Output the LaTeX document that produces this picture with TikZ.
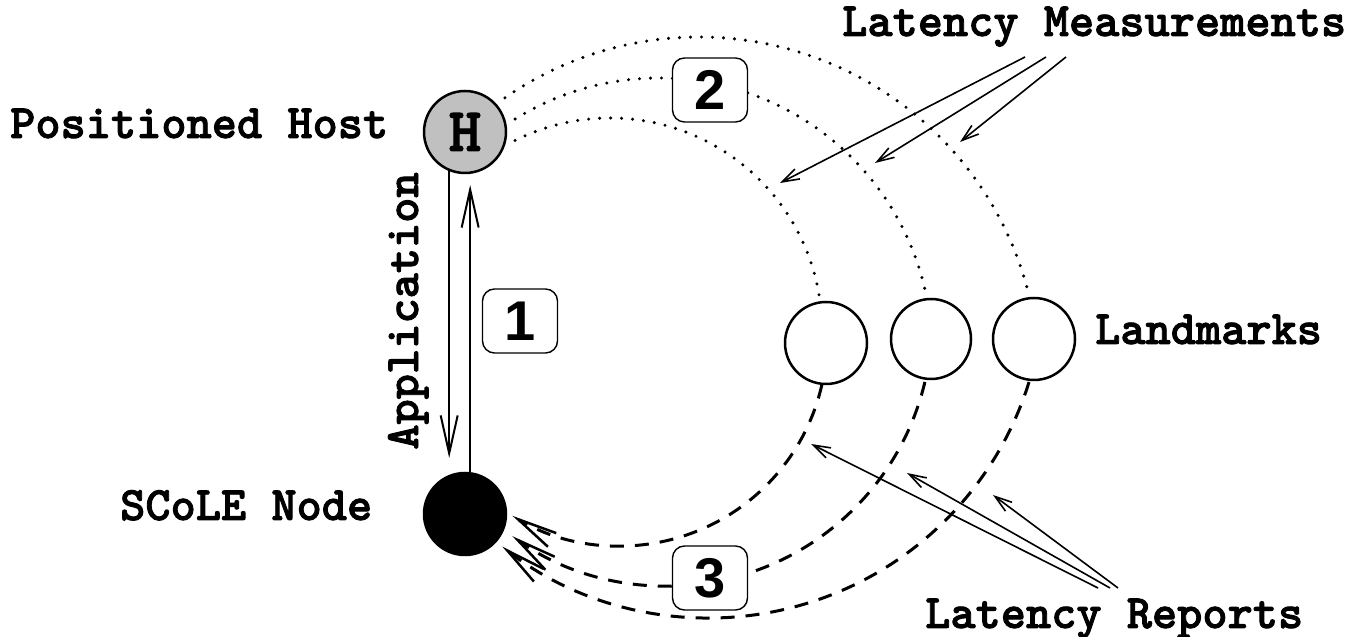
\documentclass[tikz,border=0pt]{standalone}
\usepackage{fontspec}
\newfontfamily\cour{lmmonolt10-bold.otf}[FakeBold=1.8]
\newfontfamily\helv{Liberation Sans}
\usetikzlibrary{arrows.meta,calc}
\definecolor{hgray}{RGB}{192,192,192}
\begin{document}
\begin{tikzpicture}[x=1pt,y=1pt,
  lbl/.style={font=\cour\fontsize{48}{48}\selectfont, inner sep=0pt, anchor=base west},
  numbox/.style={draw, line width=1.4pt, rounded corners=12pt, fill=white, minimum width=75pt, minimum height=64pt, inner sep=0pt, font=\helv\bfseries\fontsize{56}{56}\selectfont},
  dotarc/.style={line width=3.4pt, line cap=round, dash pattern=on 0pt off 11pt},
  dasharc/.style={line width=3pt, dash pattern=on 14pt off 11pt, -{Straight Barb[length=40pt,width=16pt,line width=2.5pt]}},
  varr/.style={line width=2pt, -{Straight Barb[length=38pt,width=17pt,line width=2pt]}},
  thinarr/.style={line width=1.6pt, -{Straight Barb[length=17pt,width=11pt,line width=1.6pt]}},
  hostc/.style={circle, draw, line width=2.5pt, minimum size=82pt, inner sep=0pt}
]
\useasboundingbox (0,0) rectangle (1352,637);

% arc centres
\coordinate (cI) at (610,307);
\coordinate (cM) at (659,286);
\coordinate (cO) at (699,260);
\coordinate (cA) at (620,298);
\coordinate (cB) at (667,316);
\coordinate (cC) at (709,354);

% dotted measurement arcs
\draw[dotarc] (cI) ++(116.6:212pt) arc[start angle=116.6, end angle=8.9, radius=212pt];
\draw[dotarc] (cM) ++(121.8:273pt) arc[start angle=121.8, end angle=12.9, radius=273pt];
\draw[dotarc] (cO) ++(124.8:340pt) arc[start angle=124.8, end angle=13.6, radius=340pt];

% dashed report arcs
\draw[dasharc] (cA) ++(-12.8:207pt) arc[start angle=-12.8, end angle=-121.3, radius=207pt];
\draw[dasharc] (cB) ++(-13.3:265pt) arc[start angle=-13.3, end angle=-125.7, radius=265pt];
\draw[dasharc] (cC) ++(-17.2:335pt) arc[start angle=-17.2, end angle=-128.1, radius=335pt];

% nodes
\node[hostc, fill=hgray, font=\cour\fontsize{62}{62}\selectfont] (H) at (465,505) {H};
\node[hostc, fill=black] (S) at (465,123) {};
\node[hostc] (L1) at (826,294) {};
\node[hostc, minimum size=80pt] (L2) at (931,298) {};
\node[hostc] (L3) at (1034,298) {};

% labels
\node[lbl] (ph) at (10,499) {Positioned Host};
\node[lbl] (sn) at (120,117) {SCoLE Node};
\node[lbl] (lm) at (1095,293) {Landmarks};
\node[lbl] (lmeas) at (842,601) {Latency Measurements};
\node[lbl] (lrep) at (925,9) {Latency Reports};
\node[font=\cour\fontsize{48}{48}\selectfont, inner sep=0pt, anchor=base, rotate=90] (app) at (418,326) {Application};

% number boxes
\node[numbox] (b1) at (520,316) {1};
\node[numbox] (b2) at (710,547) {2};
\node[numbox] (b3) at (710,59) {3};

% application arrows
\coordinate (t1) at (0,179);
\coordinate (t2) at (0,452);
\draw[varr] (H.248) -- (H.248 |- t1);
\draw[varr] (S.83) -- (S.83 |- t2);

% latency measurement pointers
\coordinate (m1s) at (1025,580);
\coordinate (m2s) at (1046,580);
\coordinate (m3s) at (1066,580);
\coordinate (m1e) at (780,454);
\coordinate (m2e) at (875,474);
\coordinate (m3e) at (960,495);
\draw[thinarr] (m1s) -- (m1e);
\draw[thinarr] (m2s) -- (m2e);
\draw[thinarr] (m3s) -- (m3e);

% latency report pointers
\coordinate (r1s) at (1098,49);
\coordinate (r2s) at (1110,49);
\coordinate (r3s) at (1118,49);
\coordinate (r1e) at (811,193);
\coordinate (r2e) at (907,164);
\coordinate (r3e) at (993,142);
\draw[thinarr] (r1s) -- (r1e);
\draw[thinarr] (r2s) -- (r2e);
\draw[thinarr] (r3s) -- (r3e);
\end{tikzpicture}
\end{document}
